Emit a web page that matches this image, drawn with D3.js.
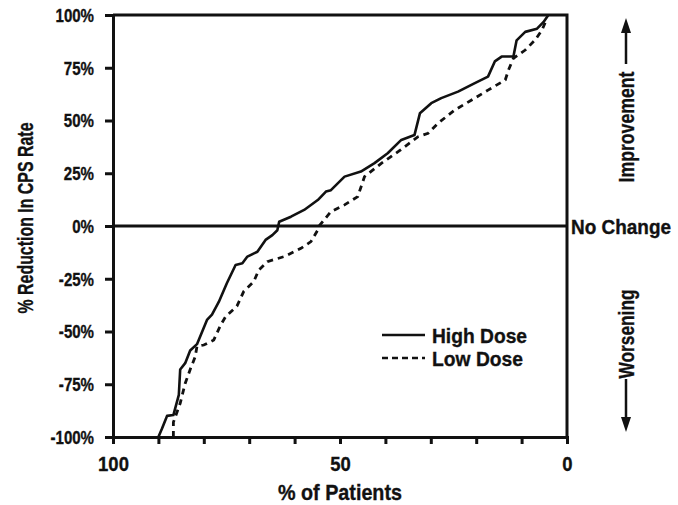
<!DOCTYPE html>
<html>
<head>
<meta charset="utf-8">
<script src="https://cdn.jsdelivr.net/npm/d3@7"></script>
<style>
  body { margin: 0; background: #fff; }
  text { font-family: "Liberation Sans", Arial, sans-serif; font-weight: bold; fill: #111; stroke: #111; stroke-width: 0.35px; }
</style>
</head>
<body>
<div id="chart"></div>
<script>
// values: % of patients (x, reversed) and % reduction in CPS rate (y)
const highDosePatients = [90, 89.2, 88.1, 86.7, 85.5, 85.2, 84.1, 83, 81.5, 79.3, 78.2, 76.7, 74.9, 73, 71.5, 70.4, 68.2, 66.4, 64.9, 63.8, 63.4, 60.8, 57.9, 54.9, 53.1, 52, 49, 45.4, 42.4, 39.5, 36.5, 33.6, 32.4, 29.9, 27.7, 24, 20.3, 17.4, 15.9, 14.4, 11.8, 11.1, 9.2, 6.6, 5.2, 4.1];
const highDoseReduction = [-100, -96, -90, -89.6, -80, -68, -65, -59, -56, -44.5, -42, -36, -27, -18.5, -17.7, -14.5, -12.2, -6.6, -4.3, -2, 2, 4.4, 7.6, 12.3, 16.3, 17, 23.4, 25.8, 29.8, 34.5, 40.8, 43.1, 53.4, 58.2, 60.6, 63.7, 67.7, 70.8, 78, 80.3, 80.3, 88, 92, 93.5, 96.6, 100];

const lowDosePatients = [86.7, 86.7, 85.2, 84.1, 83, 81.9, 81.5, 80, 77.8, 76.3, 75.2, 72.7, 71.2, 69, 67.9, 66, 62.3, 58.6, 56.4, 54.9, 54.6, 52, 49, 46.1, 44.6, 40.9, 37.2, 32.8, 30.6, 28.4, 24.7, 21, 17.4, 13.6, 12.9, 11.8, 9.2, 7, 5.5, 4.4];
const lowDoseReduction = [-100, -93, -84, -74.6, -68, -62, -57, -56.4, -54, -47, -43, -38, -31, -26.4, -20.9, -16.9, -14.5, -10.6, -7.4, -1.9, 0, 6.8, 10, 13.9, 23.4, 29.7, 35.2, 42.3, 43.9, 48.7, 55, 59.7, 64.4, 69.2, 73.9, 79.5, 83.4, 88.2, 92.9, 98.5];

const xTicks = [100, 90, 80, 70, 60, 50, 40, 30, 20, 10, 0];
const xTickLabels = {100: "100", 50: "50", 0: "0"};
const yTicks = [100, 75, 50, 25, 0, -25, -50, -75, -100];
const seriesNames = ["High Dose", "Low Dose"];

const width = 678, height = 505;
const margin = {top: 15, right: 111, bottom: 68, left: 113};
const plotWidth = width - margin.left - margin.right,
      plotHeight = height - margin.top - margin.bottom;

// squeeze text horizontally to look like the condensed face of the original
function condense(sel, factor) {
    sel.each(function () {
        let w = this.getComputedTextLength();
        d3.select(this).attr("textLength", w * factor).attr("lengthAdjust", "spacingAndGlyphs");
    });
}
function fitTo(sel, w) {
    sel.attr("textLength", w).attr("lengthAdjust", "spacingAndGlyphs");
}

const svg = d3.select("#chart").append("svg")
    .attr("width", width)
    .attr("height", height);

const g = svg.append("g")
    .attr("transform", "translate(" + margin.left + "," + margin.top + ")");

const x = d3.scaleLinear().domain([100, 0]).range([0, plotWidth]);
const y = d3.scaleLinear().domain([-100, 100]).range([plotHeight, 0]);

// frame: top and right edges
g.append("path")
    .attr("d", "M0,0H" + plotWidth + "V" + plotHeight)
    .attr("fill", "none")
    .attr("stroke", "#111")
    .attr("stroke-width", 3);

// no-change line
g.append("line")
    .attr("x1", 0).attr("x2", plotWidth)
    .attr("y1", y(0)).attr("y2", y(0))
    .attr("stroke", "#111")
    .attr("stroke-width", 3);

const yAxis = g.append("g")
    .call(d3.axisLeft(y).tickValues(yTicks).tickSize(8).tickPadding(11).tickFormat(d => d + "%"));

const xAxis = g.append("g")
    .attr("transform", "translate(0," + plotHeight + ")")
    .call(d3.axisBottom(x).tickValues(xTicks).tickSize(7).tickPadding(12).tickFormat(d => xTickLabels[d] || ""));

[xAxis, yAxis].forEach(function (ax) {
    ax.select(".domain").attr("stroke", "#111").attr("stroke-width", 3);
    ax.selectAll(".tick line").attr("stroke", "#111").attr("stroke-width", 3);
    ax.selectAll(".tick text").attr("fill", "#111");
});
yAxis.selectAll(".tick text").style("font-size", "17.5px").attr("dy", "0.36em").call(condense, 0.86);
xAxis.selectAll(".tick text").style("font-size", "21px").call(condense, 0.88);

const line = d3.line()
    .x(d => x(d[0]))
    .y(d => y(d[1]));

const highData = d3.zip(highDosePatients, highDoseReduction);
const lowData = d3.zip(lowDosePatients, lowDoseReduction);

g.append("path")
    .datum(highData)
    .attr("fill", "none")
    .attr("stroke", "#111")
    .attr("stroke-width", 2.6)
    .attr("stroke-linejoin", "round")
    .attr("d", line);

g.append("path")
    .datum(lowData)
    .attr("fill", "none")
    .attr("stroke", "#111")
    .attr("stroke-width", 2.8)
    .attr("stroke-dasharray", "6,5")
    .attr("d", line);

// legend
const legendWidths = [95, 91];
const legend = svg.append("g")
    .attr("transform", "translate(382,335)");
seriesNames.forEach(function (name, i) {
    legend.append("line")
        .attr("x1", 0).attr("x2", 43)
        .attr("y1", i * 23).attr("y2", i * 23)
        .attr("stroke", "#111")
        .attr("stroke-width", 2.6)
        .attr("stroke-dasharray", i === 1 ? "6,4" : null);
    legend.append("text")
        .attr("x", 50)
        .attr("y", i * 23 + 7.5)
        .style("font-size", "21px")
        .text(name)
        .call(fitTo, legendWidths[i]);
});

// axis titles
svg.append("text")
    .attr("transform", "translate(33,218) rotate(-90)")
    .attr("text-anchor", "middle")
    .style("font-size", "22.5px")
    .text("% Reduction In CPS Rate")
    .call(fitTo, 191);

svg.append("text")
    .attr("x", 340)
    .attr("y", 500)
    .attr("text-anchor", "middle")
    .style("font-size", "22px")
    .text("% of Patients")
    .call(fitTo, 124);

// right side annotations
svg.append("text")
    .attr("x", 571)
    .attr("y", margin.top + y(0) + 7.5)
    .style("font-size", "19.5px")
    .text("No Change")
    .call(fitTo, 100);

const arrowX = 626;
svg.append("text")
    .attr("transform", "translate(634,127) rotate(-90)")
    .attr("text-anchor", "middle")
    .style("font-size", "22px")
    .text("Improvement")
    .call(fitTo, 111);
svg.append("line")
    .attr("x1", arrowX).attr("x2", arrowX)
    .attr("y1", 64).attr("y2", 30)
    .attr("stroke", "#111")
    .attr("stroke-width", 2.5);
svg.append("path")
    .attr("d", "M" + (arrowX - 5) + ",33L" + arrowX + ",18L" + (arrowX + 5) + ",33Z")
    .attr("fill", "#111");

svg.append("text")
    .attr("transform", "translate(634,334) rotate(-90)")
    .attr("text-anchor", "middle")
    .style("font-size", "22px")
    .text("Worsening")
    .call(fitTo, 89);
svg.append("line")
    .attr("x1", arrowX).attr("x2", arrowX)
    .attr("y1", 379).attr("y2", 420)
    .attr("stroke", "#111")
    .attr("stroke-width", 2.5);
svg.append("path")
    .attr("d", "M" + (arrowX - 5) + ",417L" + arrowX + ",432L" + (arrowX + 5) + ",417Z")
    .attr("fill", "#111");
</script>
</body>
</html>
